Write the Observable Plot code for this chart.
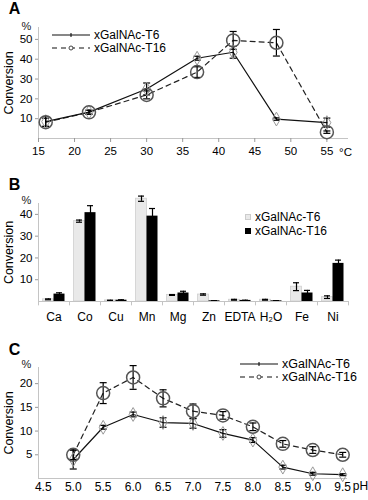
<!DOCTYPE html>
<html><head><meta charset="utf-8">
<script src="https://cdn.jsdelivr.net/npm/d3@7"></script>
<script src="https://cdn.jsdelivr.net/npm/@observablehq/plot@0.6"></script>
<style>
body{margin:0;background:#fff;}
#fig{position:relative;width:368px;height:500px;font-family:"Liberation Sans",Arial,sans-serif;overflow:hidden;background:#fff}
.panel{position:absolute;left:0}
.leg{position:absolute;display:flex;align-items:center;white-space:nowrap;color:#000;height:12px}
.leg svg{display:block}
</style></head><body><div id="fig"></div>
<script>
// ---- Panel A: temperature ----
const tempC = [16, 22, 30, 37, 42, 48, 55];
const tempT6 = [8.5, 13.3, 25, 40.5, 43.5, 9.8, 8];
const tempT6Err = [2.5, 1, 3, 1, 3, 0.6, 2.3];
const tempT16 = [8.2, 13.2, 22, 33.5, 49.5, 48.3, 3.2];
const tempT16Err = [2, 1, 2, 2.7, 4.5, 6.7, 0.6];
const tempTicks = [15, 20, 25, 30, 35, 40, 45, 50, 55];
const tempYTicks = [10, 20, 30, 40, 50];

// ---- Panel B: metals ----
const metals = ["Ca", "Co", "Cu", "Mn", "Mg", "Zn", "EDTA", "H\u2082O", "Fe", "Ni"];
const metalT6 = [1.0, 36.9, 0.5, 47.2, 3.0, 3.2, 0.8, 0.8, 6.8, 2.0];
const metalT6Err = [0.2, 0.5, 0.1, 1.2, 0.2, 0.3, 0.2, 0.2, 1.8, 0.6];
const metalT16 = [3.4, 40.8, 0.6, 39.2, 3.9, 0.3, 0.5, 0.3, 3.9, 17.5];
const metalT16Err = [0.6, 3.2, 0.2, 3.5, 0.8, 0.1, 0.1, 0.1, 1.2, 1.5];
const metalYTicks = [10, 20, 30, 40];

// ---- Panel C: pH ----
const pH = [5.0, 5.5, 6.0, 6.5, 7.0, 7.5, 8.0, 8.5, 9.0, 9.5];
const pHT6 = [4.0, 10.8, 13.5, 11.8, 11.6, 9.5, 8.1, 2.4, 1.0, 0.8];
const pHT6Err = [2.0, 0.4, 0.5, 1.0, 1.0, 0.8, 0.5, 0.4, 0.3, 0.2];
const pHT16 = [5.0, 18.0, 21.3, 16.9, 14.2, 13.3, 10.9, 7.3, 6.0, 5.0];
const pHT16Err = [1.0, 2.2, 2.5, 1.8, 1.5, 0.8, 0.8, 0.7, 0.7, 0.5];
const pHTicks = [4.5, 5.0, 5.5, 6.0, 6.5, 7.0, 7.5, 8.0, 8.5, 9.0, 9.5];
const pHYTicks = [5, 10, 15, 20];

const seriesNames = ["xGalNAc-T6", "xGalNAc-T16"];

const xDomA = [15, 58], yDomA = [0, 56];
const yDomB = [0, 45];
const xDomC = [4.42, 9.58], yDomC = [0, 23.4];

const FONT = '"Liberation Sans", Arial, sans-serif';
const AX = "#c4c4c4";
const capSymbol = { draw(ctx, size) { const r = Math.sqrt(size / Math.PI); ctx.moveTo(-r, 0); ctx.lineTo(r, 0); } };

const fig = document.getElementById("fig");
function place(svg, top) { const d = document.createElement("div"); d.className = "panel"; d.style.top = top + "px"; d.appendChild(svg); fig.appendChild(d); }

function errMarks(rows, xk, yk, ek, capR) {
  return [
    Plot.ruleX(rows, {x: xk, y1: d => d[yk] - d[ek], y2: d => d[yk] + d[ek], stroke: "#000", strokeWidth: 1.2}),
    Plot.dot(rows, {x: xk, y: d => d[yk] + d[ek], symbol: capSymbol, r: capR, stroke: "#000", strokeWidth: 1.2, fill: "none"}),
    Plot.dot(rows, {x: xk, y: d => d[yk] - d[ek], symbol: capSymbol, r: capR, stroke: "#000", strokeWidth: 1.2, fill: "none"})
  ];
}
function labels(letter, pctDy, letterDy) {
  return [
    Plot.text([letter], {frameAnchor: "top-left", dx: -24, dy: letterDy, fontSize: 16, fontWeight: "bold", fill: "#000", textAnchor: "middle", lineAnchor: "middle"}),
    Plot.text(["%"], {frameAnchor: "top-left", dx: -12, dy: pctDy, fontSize: 11, fill: "#222", textAnchor: "middle", lineAnchor: "middle"}),
    Plot.text(["Conversion"], {frameAnchor: "left", dx: -30, rotate: -90, fontSize: 12.5, fill: "#000", textAnchor: "middle", lineAnchor: "middle"})
  ];
}

// Panel A
const rowsA = tempC.map((t, i) => ({t, a: tempT6[i], ae: tempT6Err[i], b: tempT16[i], be: tempT16Err[i]}));
place(Plot.plot({
  width: 368, height: 165, marginTop: 27, marginBottom: 27, marginLeft: 38, marginRight: 20,
  style: {fontFamily: FONT, background: "white", color: "black"},
  x: {domain: xDomA}, y: {domain: yDomA},
  marks: [
    Plot.ruleY([yDomA[0]], {stroke: AX}),
    Plot.ruleX([xDomA[0]], {y1: yDomA[0], y2: yDomA[1], stroke: AX}),
    Plot.axisX({ticks: tempTicks, tickSize: 4, tickPadding: 4, stroke: "#999", fill: "#000", fontSize: 11.5, label: null}),
    Plot.axisY({ticks: tempYTicks, tickSize: 3, tickPadding: 3, stroke: "#999", fill: "#000", fontSize: 11.5, label: null}),
    Plot.line(rowsA, {x: "t", y: "b", stroke: "#222", strokeWidth: 1.2, strokeDasharray: "5,4"}),
    Plot.line(rowsA, {x: "t", y: "a", stroke: "#111", strokeWidth: 1.2}),
    ...errMarks(rowsA, "t", "a", "ae", 3.5),
    ...errMarks(rowsA, "t", "b", "be", 3.5),
    Plot.dot(rowsA, {x: "t", y: "a", symbol: "diamond", r: 4.2, stroke: "#999", strokeWidth: 1, fill: "none"}),
    Plot.dot(rowsA, {x: "t", y: "b", r: 6.5, stroke: "#555", fill: "none"}),
    ...labels("A", -1, -19),
    Plot.text(["\u00b0C"], {frameAnchor: "bottom-right", dx: -3, dy: 14, fontSize: 11.5, fill: "#000", textAnchor: "middle", lineAnchor: "middle"})
  ]
}), 0);

// Panel B
const rowsB = metals.map((m, i) => ({m, a: metalT6[i], ae: metalT6Err[i], b: metalT16[i], be: metalT16Err[i]}));
const half = 15.5;
place(Plot.plot({
  width: 368, height: 165, marginTop: 38, marginBottom: 29, marginLeft: 38, marginRight: 20,
  style: {fontFamily: FONT, background: "white", color: "black"},
  x: {type: "band", domain: metals, padding: 0}, y: {domain: yDomB},
  marks: [
    Plot.barY(rowsB, {x: "m", y: "a", insetLeft: 4.5, insetRight: half, fill: "#e9e9e9", stroke: "#cfcfcf", strokeWidth: 0.8}),
    Plot.barY(rowsB, {x: "m", y: "b", insetLeft: half, insetRight: 4.5, fill: "#000"}),
    Plot.ruleX(rowsB, {x: "m", y1: d => d.a - d.ae, y2: d => d.a + d.ae, dx: -5.5, stroke: "#000", strokeWidth: 1.2}),
    Plot.tickY(rowsB, {x: "m", y: d => d.a + d.ae, insetLeft: 7, insetRight: 18, stroke: "#000", strokeWidth: 1.2}),
    Plot.tickY(rowsB, {x: "m", y: d => d.a - d.ae, insetLeft: 7, insetRight: 18, stroke: "#000", strokeWidth: 1.2}),
    Plot.ruleX(rowsB, {x: "m", y1: d => d.b - d.be, y2: d => d.b + d.be, dx: 5.5, stroke: "#000", strokeWidth: 1.2}),
    Plot.tickY(rowsB, {x: "m", y: d => d.b + d.be, insetLeft: 18, insetRight: 7, stroke: "#000", strokeWidth: 1.2}),
    Plot.ruleY([yDomB[0]], {stroke: AX}),
    Plot.ruleX([metals[0]], {y1: yDomB[0], y2: yDomB[1], dx: -half, stroke: AX}),
    Plot.ruleX(metals, {x: d => d, y1: 0, y2: -2, dx: -half, stroke: AX}),
    Plot.ruleX([metals[metals.length - 1]], {y1: 0, y2: -2, dx: half, stroke: AX}),
    Plot.axisX({tickSize: 0, tickPadding: 11, fontSize: 12, fill: "#000", label: null}),
    Plot.axisY({ticks: metalYTicks, tickSize: 3, tickPadding: 3, stroke: "#999", fill: "#000", fontSize: 11.5, label: null}),
    ...labels("B", -3, -19)
  ]
}), 165);

// Panel C
const rowsC = pH.map((p, i) => ({p, a: pHT6[i], ae: pHT6Err[i], b: pHT16[i], be: pHT16Err[i]}));
place(Plot.plot({
  width: 368, height: 170, marginTop: 37, marginBottom: 22, marginLeft: 38, marginRight: 21,
  style: {fontFamily: FONT, background: "white", color: "black"},
  x: {domain: xDomC}, y: {domain: yDomC},
  marks: [
    Plot.ruleY([yDomC[0]], {stroke: AX}),
    Plot.ruleX([xDomC[0]], {y1: yDomC[0], y2: yDomC[1], stroke: AX}),
    Plot.axisX({ticks: pHTicks, tickFormat: d3.format(".1f"), tickSize: 0, tickPadding: 4, fontSize: 12, fill: "#000", label: null}),
    Plot.axisY({ticks: pHYTicks, tickSize: 3, tickPadding: 3, stroke: "#999", fill: "#000", fontSize: 11.5, label: null}),
    Plot.line(rowsC, {x: "p", y: "b", stroke: "#222", strokeWidth: 1.2, strokeDasharray: "5,4"}),
    Plot.line(rowsC, {x: "p", y: "a", stroke: "#111", strokeWidth: 1.2}),
    ...errMarks(rowsC, "p", "a", "ae", 3.5),
    ...errMarks(rowsC, "p", "b", "be", 3.5),
    Plot.dot(rowsC, {x: "p", y: "a", symbol: "diamond", r: 4.2, stroke: "#999", strokeWidth: 1, fill: "none"}),
    Plot.dot(rowsC, {x: "p", y: "b", r: 6.5, stroke: "#555", fill: "none"}),
    ...labels("C", -3, -18),
    Plot.text(["pH"], {frameAnchor: "bottom-right", dx: 13, dy: 8, fontSize: 12, fill: "#000", textAnchor: "middle", lineAnchor: "middle"})
  ]
}), 330);

// Legends
function lineLegend(left, top, fontSize, rowGap) {
  seriesNames.forEach((name, i) => {
    const d = document.createElement("div");
    d.className = "leg";
    d.style.left = left + "px"; d.style.top = (top + i * rowGap - 6) + "px"; d.style.fontSize = fontSize + "px";
    const dash = i === 1 ? 'stroke-dasharray="5,4"' : "";
    const mk = i === 1 ? '<circle cx="19" cy="5" r="2" fill="white" stroke="#444"/>' : '<line x1="19" x2="19" y1="3" y2="7" stroke="#000"/>';
    d.innerHTML = `<svg width="40" height="10"><line x1="0" x2="38" y1="5" y2="5" stroke="#111" stroke-width="1.2" ${dash}/>${mk}</svg><span style="margin-left:2px">${name}</span>`;
    fig.appendChild(d);
  });
}
lineLegend(52, 35, 12, 13);
lineLegend(240, 364, 12.5, 13);
seriesNames.forEach((name, i) => {
  const d = document.createElement("div");
  d.className = "leg";
  d.style.left = "245px"; d.style.top = (217 + i * 14 - 6) + "px"; d.style.fontSize = "12px";
  const fill = i === 0 ? '#e9e9e9' : '#000';
  d.innerHTML = `<svg width="6" height="6"><rect x="0.5" y="0.5" width="5" height="5" fill="${fill}" stroke="${i === 0 ? '#ccc' : '#000'}"/></svg><span style="margin-left:4px">${name}</span>`;
  fig.appendChild(d);
});
</script></body></html>
